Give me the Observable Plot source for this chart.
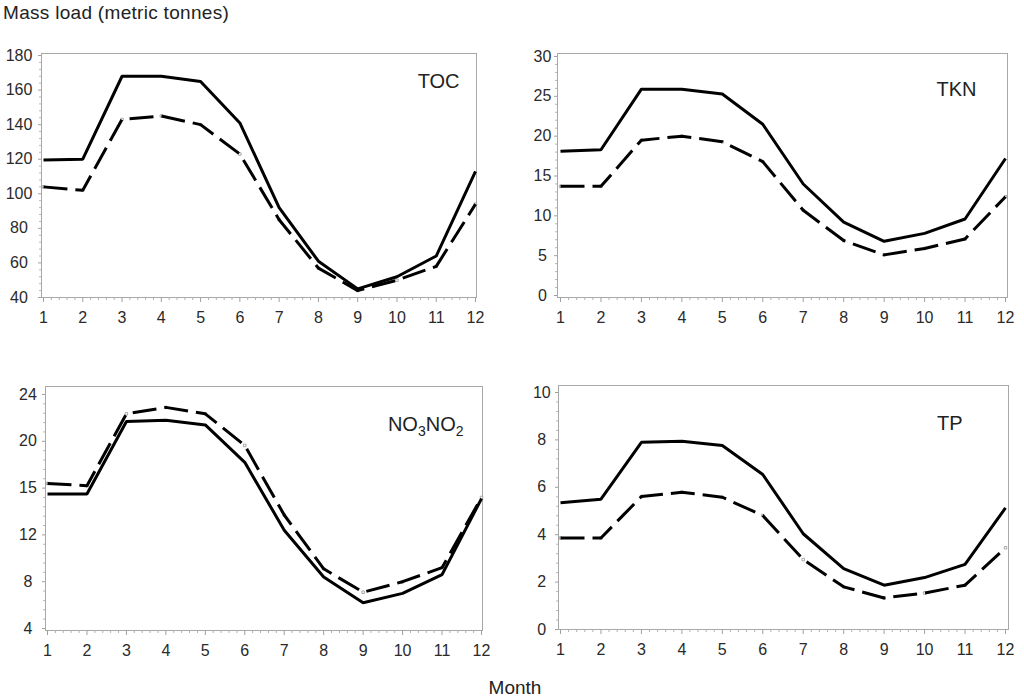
<!DOCTYPE html>
<html>
<head>
<meta charset="utf-8">
<script src="https://cdn.jsdelivr.net/npm/d3@7"></script>
<script src="https://cdn.jsdelivr.net/npm/@observablehq/plot@0.6"></script>
<style>
  body { margin: 0; background: #fff; font-family: "Liberation Sans", Arial, sans-serif; }
  #root { position: relative; width: 1024px; height: 698px; overflow: hidden; background: #fff; }
  .panel { position: absolute; }
  .ytitle { position: absolute; left: 3px; top: 3px; font-size: 19px; line-height: 1; color: #222; letter-spacing: 0.3px; }
  .xtitle { position: absolute; left: 0; width: 1030px; top: 678px; text-align: center; font-size: 19px; line-height: 1; color: #222; }
</style>
</head>
<body>
<div id="root">
  <div class="ytitle">Mass load (metric tonnes)</div>
  <div class="xtitle">Month</div>
</div>
<script>
// ---- data ----
const months = [1, 2, 3, 4, 5, 6, 7, 8, 9, 10, 11, 12];

const tocSolid  = [119.5, 120, 168, 168, 165, 141, 92, 61, 45, 52, 64, 113];
const tocDashed = [104, 102, 143, 145, 140, 123, 85, 57, 44, 50, 58, 94];

const tknSolid  = [18.1, 18.3, 25.9, 25.9, 25.3, 21.5, 14.0, 9.2, 6.8, 7.8, 9.6, 17.2];
const tknDashed = [13.7, 13.7, 19.5, 20.0, 19.3, 16.8, 10.7, 6.9, 5.1, 5.9, 7.1, 12.4];

const no3Solid  = [15.5, 15.5, 21.7, 21.8, 21.4, 18.2, 12.4, 8.4, 6.2, 7.0, 8.6, 15.1];
const no3Dashed = [16.4, 16.2, 22.35, 22.9, 22.35, 19.65, 13.7, 9.1, 7.1, 8.0, 9.2, 15.2];

const tpSolid   = [5.35, 5.5, 7.9, 7.94, 7.76, 6.54, 4.04, 2.57, 1.87, 2.19, 2.75, 5.13];
const tpDashed  = [3.86, 3.86, 5.61, 5.79, 5.58, 4.81, 2.95, 1.8, 1.33, 1.54, 1.87, 3.45];

const monthTicks = months;
const tocTicks = [40, 60, 80, 100, 120, 140, 160, 180];
const tknTicks = [0, 5, 10, 15, 20, 25, 30];
const no3Ticks = [4, 8, 12, 16, 20, 24];
const no3TickLabels = ["4", "8", "12", "15", "20", "24"];
const tpTicks = [0, 2, 4, 6, 8, 10];

const panelNames = ["TOC", "TKN", "NO3NO2", "TP"];

// ---- drawing ----
const root = document.getElementById("root");
const FONT = "Liberation Sans, Arial, sans-serif";

function makePanel(cfg) {
  const sData = months.map((m, i) => ({month: m, value: cfg.solid[i], series: "solid"}));
  const dData = months.map((m, i) => ({month: m, value: cfg.dashed[i], series: "dashed"}));
  const labelMap = new Map(cfg.yTicks.map((t, i) => [t, cfg.yLabels ? cfg.yLabels[i] : String(t)]));
  const minorX = d3.range(1, 12.0001, 0.2).filter(v => Math.abs(v - Math.round(v)) > 1e-6);
  const step = cfg.yTicks[1] - cfg.yTicks[0];
  const minorY = d3.range(cfg.yTicks[0], cfg.yTicks[cfg.yTicks.length - 1] + 1e-9, step / 5)
    .filter(v => !cfg.yTicks.some(t => Math.abs(t - v) < 1e-6));

  const chart = Plot.plot({
    width: cfg.width, height: cfg.height,
    marginLeft: cfg.mL, marginRight: cfg.mR, marginTop: cfg.mT, marginBottom: cfg.mB,
    x: {domain: [1, 12], insetLeft: cfg.iL, insetRight: cfg.iR, label: null},
    y: {domain: cfg.yDomain, insetTop: cfg.iT, insetBottom: cfg.iB, label: null},
    style: {fontFamily: FONT, fontSize: "16px", color: "#2a2a2a", background: "transparent", overflow: "visible"},
    marks: [
      Plot.frame({stroke: "#a8a8a8", strokeWidth: 1}),
      Plot.axisX(minorX, {tickSize: 3, stroke: "#b0b0b0", tickFormat: () => "", label: null}),
      Plot.axisX(monthTicks, {tickSize: 5, tickPadding: 9, stroke: "#a0a0a0", fill: "#2a2a2a", label: null, tickFormat: d => String(d)}),
      Plot.axisY(minorY, {tickSize: 2, stroke: "#b8b8b8", tickFormat: () => "", label: null}),
      Plot.axisY(cfg.yTicks, {tickSize: 3, tickPadding: cfg.yPad, textAnchor: "middle", stroke: "#a0a0a0", fill: "#2a2a2a", label: null, tickFormat: d => labelMap.get(d)}),
      Plot.dot(dData, {x: "month", y: "value", symbol: "square", r: 1.4, fill: "white", stroke: "#888", strokeWidth: 0.7}),
      Plot.line(dData, {x: "month", y: "value", stroke: "#000", strokeWidth: 3, strokeDasharray: "24,8", strokeLinecap: "butt", strokeLinejoin: "miter"}),
      Plot.line(sData, {x: "month", y: "value", stroke: "#000", strokeWidth: 3, strokeLinecap: "butt", strokeLinejoin: "miter"}),
      Plot.text([cfg.label], {frameAnchor: "top-right", textAnchor: "end", lineAnchor: "middle", dx: cfg.ldx, dy: cfg.ldy, fontSize: 20, fill: "#222"})
    ]
  });
  chart.classList.add("panel");
  chart.style.left = cfg.left + "px";
  chart.style.top = cfg.top + "px";
  chart.style.position = "absolute";

  // subscripts for chemical formula labels
  d3.select(chart).selectAll("text").each(function() {
    if (this.textContent === "NO3NO2") {
      const t = d3.select(this);
      t.text(null);
      t.append("tspan").text("NO");
      t.append("tspan").attr("font-size", 14).attr("dy", 5).text("3");
      t.append("tspan").attr("dy", -5).text("NO");
      t.append("tspan").attr("font-size", 14).attr("dy", 5).text("2");
    }
  });
  root.appendChild(chart);
}

makePanel({left: 0, top: 40, width: 500, height: 290, mL: 41, mR: 24, mT: 13, mB: 33,
  iL: 2, iR: 1, iT: 2, iB: 0, yDomain: [40, 180], yTicks: tocTicks, yPad: 19.5,
  solid: tocSolid, dashed: tocDashed, label: panelNames[0], ldx: -17, ldy: 28});

makePanel({left: 515, top: 40, width: 509, height: 290, mL: 42, mR: 17, mT: 13, mB: 33,
  iL: 3, iR: 2, iT: 3, iB: 2, yDomain: [0, 30], yTicks: tknTicks, yPad: 12,
  solid: tknSolid, dashed: tknDashed, label: panelNames[1], ldx: -31, ldy: 36});

makePanel({left: 0, top: 375, width: 500, height: 290, mL: 45, mR: 18, mT: 11, mB: 35,
  iL: 2, iR: 1, iT: 8, iB: 2, yDomain: [4, 24], yTicks: no3Ticks, yLabels: no3TickLabels, yPad: 14.5,
  solid: no3Solid, dashed: no3Dashed, label: panelNames[2], ldx: -19, ldy: 38});

makePanel({left: 515, top: 375, width: 509, height: 290, mL: 43, mR: 16, mT: 10, mB: 36,
  iL: 2, iR: 3, iT: 7, iB: 0, yDomain: [0, 10], yTicks: tpTicks, yPad: 13.7,
  solid: tpSolid, dashed: tpDashed, label: panelNames[3], ldx: -46, ldy: 38});
</script>
</body>
</html>
